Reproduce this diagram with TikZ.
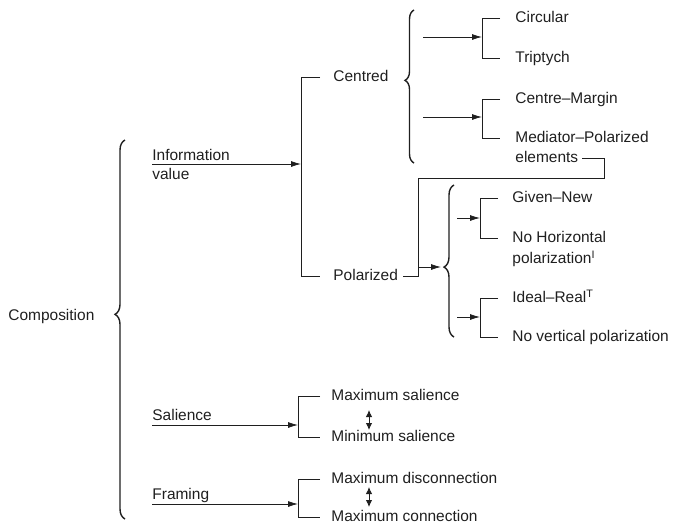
\documentclass[tikz,border=0pt]{standalone}
\usepackage{fontspec}
\setmainfont{Liberation Sans}
\usetikzlibrary{arrows.meta,decorations.pathreplacing}

\tikzset{
  arr/.style={-{Latex[length=3mm,width=1.8mm]}},
  dbl/.style={{Latex[length=2.1mm,width=1.9mm]}-{Latex[length=2.1mm,width=1.9mm]}},
  curly/.style={decorate, line width=1.2pt, decoration={brace, amplitude=#1}},
  curly/.default=0.27cm
}

\begin{document}
\begin{tikzpicture}[x=0.03cm, y=-0.03cm, line width=0.7pt, color={black!88},
    font=\fontsize{13.2}{16}\selectfont,
    every node/.style={anchor=west, inner sep=0pt, text height=0.72em, text depth=0pt}]
        \useasboundingbox (0,0) rectangle (682,525);

        % Nodes
        \node (comp) at (8,316) {Composition};
        \node (info) [anchor=south west] at (152,161) {Information};
        \node (val) [anchor=north west] at (152,171) {value};
        \node (sal) [anchor=south west] at (152,421) {Salience};
        \node (fram) [anchor=south west] at (152,500) {Framing};

        \node (centred) at (333,77) {Centred};
        \node (polar) at (333,276) {Polarized};

        \node (circ) at (515,18) {Circular};
        \node (trip) at (515,58) {Triptych};
        \node (cm) at (515,99) {Centre\textendash Margin};
        \node (med) at (515,138) {Mediator\textendash Polarized};
        \node (elem) at (515,158) {elements};

        \node (given) at (512,198) {Given\textendash New};
        \node (nohor) at (512,238) {No Horizontal};
        \node (polz) at (512,259) {polarization\textsuperscript{I}};
        \node (ideal) at (512,298) {Ideal\textendash Real\textsuperscript{T}};
        \node (novert) at (512,337) {No vertical polarization};

        \node (maxs) at (331,396) {Maximum salience};
        \node (mins) at (331,437) {Minimum salience};
        \node (maxd) at (331,479) {Maximum disconnection};
        \node (maxc) at (331,517) {Maximum connection};

        % Points for the connectors
        \coordinate (tInfo) at (152,164);
        \coordinate (bInfo) at (301,164);
        \coordinate (tSal) at (152,425);
        \coordinate (bSal) at (298,425);
        \coordinate (tFram) at (152,504);
        \coordinate (bFram) at (298,504);
        \coordinate (tCirc) at (423,37);
        \coordinate (bCirc) at (482,37);
        \coordinate (tCm) at (423,117);
        \coordinate (bCm) at (482,117);
        \coordinate (tGiven) at (457,218);
        \coordinate (bGiven) at (480,218);
        \coordinate (tIdeal) at (457,317);
        \coordinate (bIdeal) at (480,317);
        \coordinate (tPol) at (418,267);
        \coordinate (hPol) at (441,267);
        \coordinate (pv) at (418,178);
        \coordinate (ev) at (604,178);
        \coordinate (dS1) at (369,410);
        \coordinate (dS2) at (369,430);
        \coordinate (dF1) at (369,487);
        \coordinate (dF2) at (369,507);

        % Braces
        \draw[curly=0.3cm, decoration={aspect=0.54}] (125,519) -- (125,140);
        \draw[curly, decoration={aspect=0.54}] (414,163) -- (414,10);
        \draw[curly=0.3cm, decoration={aspect=0.46}] (454,337) -- (454,185);

        % Brackets
        \draw ([xshift=-0.39cm]centred.west) -- ++(-19,0) |- ([xshift=-0.39cm]polar.west);
        \draw ([xshift=-0.45cm]circ.west) -- ++(-18,0) |- ([xshift=-0.45cm]trip.west);
        \draw ([xshift=-0.45cm]cm.west) -- ++(-18,0) |- ([xshift=-0.45cm]med.west);
        \draw ([xshift=-0.42cm]given.west) -- ++(-18,0) |- ([xshift=-0.42cm]nohor.west);
        \draw ([xshift=-0.42cm]ideal.west) -- ++(-18,0) |- ([xshift=-0.42cm]novert.west);
        \draw ([xshift=-0.33cm]maxs.west) -- ++(-22,0) |- ([xshift=-0.33cm]mins.west);
        \draw ([xshift=-0.33cm]maxd.west) -- ++(-22,0) |- ([xshift=-0.33cm]maxc.west);
        \draw ([xshift=0.15cm]polar.east) -| (pv) -- (ev) |- ([xshift=0.1cm]elem.east);

        % Arrows
        \draw[arr] (tInfo) -- (bInfo);
        \draw[arr] (tSal) -- (bSal);
        \draw[arr] (tFram) -- (bFram);
        \draw[arr] (tCirc) -- (bCirc);
        \draw[arr] (tCm) -- (bCm);
        \draw[arr] (tGiven) -- (bGiven);
        \draw[arr] (tIdeal) -- (bIdeal);
        \draw[arr] (tPol) -- (hPol);
        \draw[dbl] (dS1) -- (dS2);
        \draw[dbl] (dF1) -- (dF2);
    \end{tikzpicture}
\end{document}
